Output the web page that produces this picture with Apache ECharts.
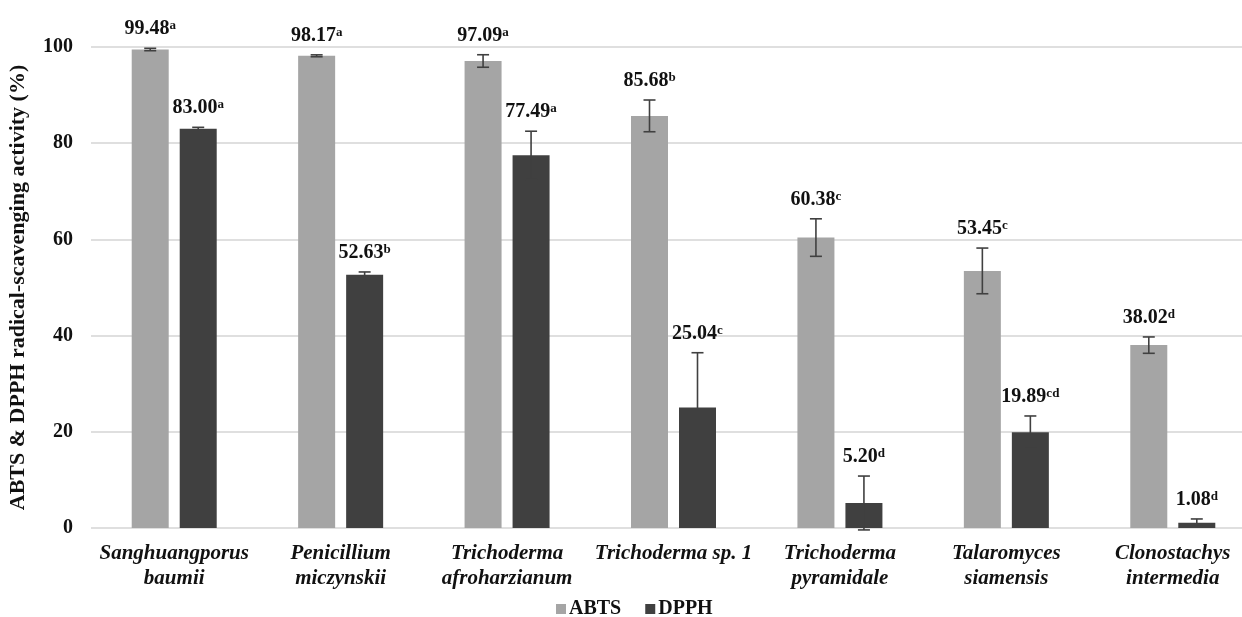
<!DOCTYPE html>
<html>
<head>
<meta charset="utf-8">
<script src="https://cdn.jsdelivr.net/npm/echarts@6/dist/echarts.min.js"></script>
<style>html,body{margin:0;padding:0;background:#fff}#c{width:1242px;height:617px}</style>
</head>
<body>
<div id="c"></div>
<script>
var categories = ['Sanghuangporus\nbaumii', 'Penicillium\nmiczynskii', 'Trichoderma\nafroharzianum', 'Trichoderma sp. 1', 'Trichoderma\npyramidale', 'Talaromyces\nsiamensis', 'Clonostachys\nintermedia'];
var abts = [99.48, 98.17, 97.09, 85.68, 60.38, 53.45, 38.02];
var abtsErr = [0.25, 0.2, 1.3, 3.3, 3.9, 4.75, 1.7];
var abtsLetters = ['a', 'a', 'a', 'b', 'c', 'c', 'd'];
var dpph = [83.00, 52.63, 77.49, 25.04, 5.20, 19.89, 1.08];
var dpphErr = [0.3, 0.6, 5.0, 11.4, 5.6, 3.4, 0.8];
var dpphLetters = ['a', 'b', 'a', 'c', 'd', 'cd', 'd'];
var yTicks = {min: 0, max: 100, interval: 20};

var FONT = '"Liberation Serif", "Times New Roman", serif';
var BAR_W = 37, BAR_GAP = 11;
var ABTS_COLOR = '#a5a5a5', DPPH_COLOR = '#404040';

function errSeries(name, means, errs, letters, side) {
  var data = means.map(function (m, i) { return [i, m, errs[i]]; });
  return {
    type: 'custom',
    name: name + ' err',
    z: 10,
    silent: true,
    data: data,
    renderItem: function (params, api) {
      var i = api.value(0), m = api.value(1), e = api.value(2);
      var letter = letters[i];
      var off = side * (BAR_W / 2 + BAR_GAP / 2);
      var top = api.coord([i, m + e]);
      var bot = api.coord([i, Math.max(m - e, -0.5)]);
      var x = top[0] + off;
      var cap = 6;
      var ls = {stroke: '#404040', lineWidth: 1.6};
      return {
        type: 'group',
        children: [
          {type: 'line', shape: {x1: x, y1: top[1], x2: x, y2: bot[1]}, style: ls},
          {type: 'line', shape: {x1: x - cap, y1: top[1], x2: x + cap, y2: top[1]}, style: ls},
          {type: 'line', shape: {x1: x - cap, y1: bot[1], x2: x + cap, y2: bot[1]}, style: ls},
          {type: 'text', x: x, y: top[1] - 9,
            style: {
              text: '{v|' + m.toFixed(2) + '}{s|' + letter + '}',
              align: 'center', verticalAlign: 'bottom',
              rich: {
                v: {fontFamily: FONT, fontWeight: 'bold', fontSize: 20, fill: '#111', verticalAlign: 'bottom', lineHeight: 20},
                s: {fontFamily: FONT, fontWeight: 'bold', fontSize: 13, fill: '#111', verticalAlign: 'top', lineHeight: 20, padding: [0, 0, 8, 0]}
              }
            }
          }
        ]
      };
    }
  };
}

var chart = echarts.init(document.getElementById('c'), null, {renderer: 'canvas'});
chart.setOption({
  animation: false,
  backgroundColor: '#fff',
  grid: {left: 91, right: -14, top: 47, bottom: 89, containLabel: false, outerBoundsMode: 'none'},
  legend: {
    data: [{name: 'ABTS'}, {name: 'DPPH'}],
    left: 551, top: 594,
    itemWidth: 10, itemHeight: 10, itemGap: 24,
    icon: 'rect',
    textStyle: {fontFamily: FONT, fontWeight: 'bold', fontSize: 20, color: '#111', padding: [0, 0, 0, -2]}
  },
  xAxis: {
    type: 'category',
    data: categories,
    axisLine: {show: false},
    axisTick: {show: false},
    axisLabel: {fontFamily: FONT, fontStyle: 'italic', fontWeight: 'bold', fontSize: 21, color: '#111', lineHeight: 25, margin: 13, interval: 0}
  },
  yAxis: {
    type: 'value',
    min: yTicks.min, max: yTicks.max, interval: yTicks.interval,
    name: 'ABTS & DPPH radical-scavenging activity (%)',
    nameLocation: 'middle',
    nameGap: 62,
    nameTextStyle: {fontFamily: FONT, fontWeight: 'bold', fontSize: 22, color: '#111'},
    axisLine: {show: false},
    axisTick: {show: false},
    axisLabel: {fontFamily: FONT, fontWeight: 'bold', fontSize: 20, color: '#111', margin: 18},
    splitLine: {lineStyle: {color: '#d4d4d4', width: 1.5}}
  },
  series: [
    {type: 'bar', name: 'ABTS', data: abts, barWidth: BAR_W, barGap: (BAR_GAP / BAR_W * 100) + '%', itemStyle: {color: ABTS_COLOR}},
    {type: 'bar', name: 'DPPH', data: dpph, barWidth: BAR_W, barGap: (BAR_GAP / BAR_W * 100) + '%', itemStyle: {color: DPPH_COLOR}},
    errSeries('ABTS', abts, abtsErr, abtsLetters, -1),
    errSeries('DPPH', dpph, dpphErr, dpphLetters, 1)
  ]
});
</script>
</body>
</html>
